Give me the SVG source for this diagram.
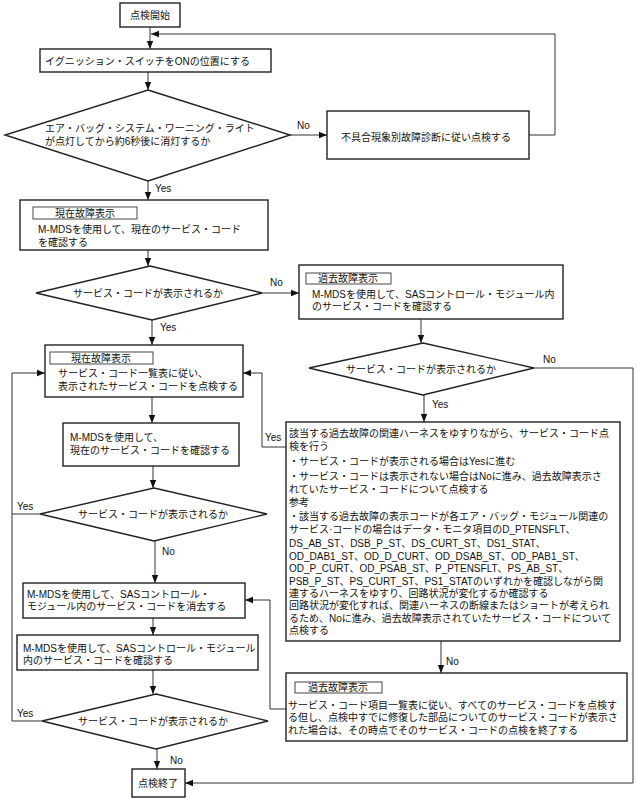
<svg xmlns="http://www.w3.org/2000/svg" width="636" height="799" viewBox="0 0 636 799">
<defs>
<marker id="ah" viewBox="0 0 10 10" refX="10" refY="5" markerWidth="8" markerHeight="8" markerUnits="userSpaceOnUse" orient="auto">
<path d="M0,1 L10,5 L0,9 z" fill="#111"/>
</marker>
<style>
.box{fill:#fff;stroke:#222;stroke-width:1.4}
.lbl{fill:#fff;stroke:#333;stroke-width:0.9}
.dia{fill:#fff;stroke:#222;stroke-width:1.4}
.t{font-family:"Liberation Sans","Noto Sans CJK JP",sans-serif;font-size:10px;fill:#111}
.m{text-anchor:middle}
.c{fill:none;stroke:#333;stroke-width:1}
.a{marker-end:url(#ah)}
</style>
</defs>
<rect width="636" height="799" fill="#fff"/>
<g id="connectors">
<line class="c a" x1="150" y1="27" x2="150" y2="49"/>
<polyline class="c a" points="529,135 555,135 555,34 151,34"/>
<line class="c a" x1="148" y1="72" x2="148" y2="90"/>
<line class="c a" x1="290" y1="135" x2="327" y2="135"/>
<line class="c a" x1="148" y1="181" x2="148" y2="200"/>
<line class="c a" x1="148" y1="250" x2="148" y2="266"/>
<line class="c a" x1="262" y1="293" x2="299" y2="293"/>
<line class="c a" x1="152" y1="320" x2="152" y2="345"/>
<line class="c a" x1="152" y1="397" x2="152" y2="423"/>
<line class="c a" x1="153" y1="466" x2="153" y2="488"/>
<polyline class="c" points="40,514 12,514"/>
<polyline class="c a" points="42,721 12,721 12,373 45,373"/>
<line class="c a" x1="155" y1="541" x2="155" y2="583"/>
<line class="c a" x1="153" y1="618" x2="153" y2="635"/>
<line class="c a" x1="153" y1="670" x2="153" y2="694"/>
<line class="c a" x1="157" y1="749" x2="157" y2="769"/>
<line class="c a" x1="421" y1="319" x2="421" y2="343"/>
<polyline class="c a" points="534,368 633,368 633,783 185,783"/>
<line class="c a" x1="424" y1="395" x2="424" y2="422"/>
<polyline class="c a" points="286,447 262,447 262,373 243,373"/>
<line class="c a" x1="441" y1="641" x2="441" y2="673"/>
<polyline class="c a" points="286,709 270,709 270,600 245,600"/>
<text class="t" x="297" y="129">No</text>
<text class="t" x="155" y="192">Yes</text>
<text class="t" x="270" y="286">No</text>
<text class="t" x="160" y="331">Yes</text>
<text class="t" x="543" y="363">No</text>
<text class="t" x="432" y="408">Yes</text>
<text class="t" x="265" y="441">Yes</text>
<text class="t" x="17" y="510">Yes</text>
<text class="t" x="162" y="555">No</text>
<text class="t" x="446" y="665">No</text>
<text class="t" x="17" y="717">Yes</text>
<text class="t" x="170" y="764">No</text>
</g>
<g id="start">
<rect class="box" x="120" y="3" width="60" height="24"/>
<text class="t m" x="150" y="18.5">点検開始</text>
</g>
<g id="ignition">
<rect class="box" x="40" y="49" width="231" height="23"/>
<text class="t" x="45" y="64.5">イグニッション・スイッチをONの位置にする</text>
</g>
<g id="d1">
<polygon class="dia" points="148,90 290,135 148,181 5,135"/>
<text class="t" x="45" y="131.5">エア・バッグ・システム・ワーニング・ライト</text>
<text class="t" x="45" y="144.5">が点灯してから約6秒後に消灯するか</text>
</g>
<g id="symptom">
<rect class="box" x="327" y="111" width="202" height="48"/>
<text class="t" x="341" y="140.5">不具合現象別故障診断に従い点検する</text>
</g>
<g id="current1">
<rect class="box" x="20" y="200" width="248" height="50"/>
<rect class="lbl" x="33" y="207" width="104" height="12"/>
<text class="t m" x="85" y="216.5">現在故障表示</text>
<text class="t" x="38" y="232.5">M-MDSを使用して、現在のサービス・コード</text>
<text class="t" x="38" y="246">を確認する</text>
</g>
<g id="d2">
<polygon class="dia" points="150,266 262,293 152,320 36,293"/>
<text class="t m" x="148" y="296.5">サービス・コードが表示されるか</text>
</g>
<g id="past1">
<rect class="box" x="299" y="265" width="264" height="54"/>
<rect class="lbl" x="306" y="273" width="85" height="11"/>
<text class="t m" x="348" y="281.5">過去故障表示</text>
<text class="t" x="312" y="297.5">M-MDSを使用して、SASコントロール・モジュール内</text>
<text class="t" x="312" y="310">のサービス・コードを確認する</text>
</g>
<g id="d3">
<polygon class="dia" points="423,343 534,368 423,395 309,368"/>
<text class="t m" x="421" y="372.5">サービス・コードが表示されるか</text>
</g>
<g id="current2">
<rect class="box" x="45" y="345" width="198" height="52"/>
<rect class="lbl" x="50" y="352" width="103" height="12"/>
<text class="t m" x="101" y="361.5">現在故障表示</text>
<text class="t" x="58" y="376.5">サービス・コード一覧表に従い、</text>
<text class="t" x="58" y="390">表示されたサービス・コードを点検する</text>
</g>
<g id="check1">
<rect class="box" x="63" y="423" width="176" height="43"/>
<text class="t" x="70" y="441">M-MDSを使用して、</text>
<text class="t" x="70" y="454">現在のサービス・コードを確認する</text>
</g>
<g id="d4">
<polygon class="dia" points="154,488 267,514 154,541 40,514"/>
<text class="t m" x="153" y="517.5">サービス・コードが表示されるか</text>
</g>
<g id="harness">
<rect class="box" x="286" y="422" width="334" height="219"/>
<text class="t" x="289" y="436.5">該当する過去故障の関連ハーネスをゆすりながら、サービス・コード点</text>
<text class="t" x="289" y="449.5">検を行う</text>
<text class="t" x="289" y="464.5">・サービス・コードが表示される場合はYesに進む</text>
<text class="t" x="289" y="479.5">・サービス・コードは表示されない場合はNoに進み、過去故障表示さ</text>
<text class="t" x="289" y="492.5">れていたサービス・コードについて点検する</text>
<text class="t" x="289" y="505.5">参考</text>
<text class="t" x="289" y="519.5">・該当する過去故障の表示コードが各エア・バッグ・モジュール関連の</text>
<text class="t" x="289" y="532.5">サービス·コードの場合はデータ・モニタ項目のD_PTENSFLT、</text>
<text class="t" x="289" y="546.5">DS_AB_ST、DSB_P_ST、DS_CURT_ST、DS1_STAT、</text>
<text class="t" x="289" y="559.5">OD_DAB1_ST、OD_D_CURT、OD_DSAB_ST、OD_PAB1_ST、</text>
<text class="t" x="289" y="571.5">OD_P_CURT、OD_PSAB_ST、P_PTENSFLT、PS_AB_ST、</text>
<text class="t" x="289" y="584.5">PSB_P_ST、PS_CURT_ST、PS1_STATのいずれかを確認しながら関</text>
<text class="t" x="289" y="596.5">連するハーネスをゆすり、回路状況が変化するか確認する</text>
<text class="t" x="289" y="608.5">回路状況が変化すれば、関連ハーネスの断線またはショートが考えられ</text>
<text class="t" x="289" y="621.5">るため、Noに進み、過去故障表示されていたサービス・コードについて</text>
<text class="t" x="289" y="633.5">点検する</text>
</g>
<g id="erase">
<rect class="box" x="23" y="583" width="222" height="35"/>
<text class="t" x="27" y="597.5">M-MDSを使用して、SASコントロール・</text>
<text class="t" x="27" y="610">モジュール内のサービス・コードを消去する</text>
</g>
<g id="check2">
<rect class="box" x="17" y="635" width="241" height="35"/>
<text class="t" x="23" y="651.5">M-MDSを使用して、SASコントロール・モジュール</text>
<text class="t" x="23" y="663.5">内のサービス・コードを確認する</text>
</g>
<g id="d5">
<polygon class="dia" points="156,694 268,721 156,749 42,721"/>
<text class="t m" x="153" y="724.5">サービス・コードが表示されるか</text>
</g>
<g id="past2">
<rect class="box" x="286" y="673" width="341" height="68"/>
<rect class="lbl" x="295" y="682" width="87" height="11"/>
<text class="t m" x="338" y="691">過去故障表示</text>
<text class="t" x="288" y="708.5">サービス・コード項目一覧表に従い、すべてのサービス・コードを点検す</text>
<text class="t" x="288" y="721">る但し、点検中すでに修復した部品についてのサービス・コードが表示さ</text>
<text class="t" x="288" y="733.5">れた場合は、その時点でそのサービス・コードの点検を終了する</text>
</g>
<g id="end">
<rect class="box" x="132" y="769" width="53" height="28"/>
<text class="t m" x="158" y="786.5">点検終了</text>
</g>
</svg>
